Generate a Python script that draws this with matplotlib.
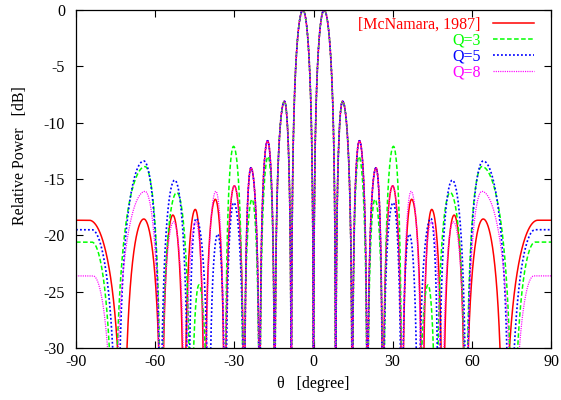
import numpy as np
import matplotlib
matplotlib.use("Agg")
import matplotlib.pyplot as plt

plt.rcParams['font.family'] = ['Liberation Serif', 'DejaVu Serif']

# ---- data (positive half; pattern is symmetric) ----
# lobe i spans null_deg[i] .. null_deg[i+1] (last lobe runs to 90 deg and
# holds its peak level after its peak position)
mc_null = [0, 8.4, 14.7, 20.4, 26.2, 33.6, 41.3, 49.0, 57.5, 72.0]
mc_peak_deg = [4.0, 11.0, 17.4, 23.7, 30.0, 37.2, 44.8, 53.3, 64.3, 85.0]
mc_peak_db = [0.0, -8.1, -11.6, -14.0, -15.6, -16.8, -17.7, -18.2, -18.55, -18.66]

q3_null = [0, 8.4, 14.7, 20.4, 26.6, 33.5, 39.8, 46.5, 57.8, 75.5]
q3_peak_deg = [4.0, 11.0, 17.2, 23.3, 30.3, 36.8, 43.4, 51.8, 63.8, 84.0]
q3_peak_db = [0.0, -8.1, -13.0, -16.8, -12.1, -31.0, -24.4, -16.2, -13.9, -20.6]

q5_null = [0, 8.4, 14.7, 20.4, 26.2, 33.4, 39.6, 47.4, 58.0, 74.2]
q5_peak_deg = [4.0, 11.0, 17.4, 23.7, 30.2, 36.3, 44.5, 52.6, 64.3, 84.0]
q5_peak_db = [0.0, -8.1, -11.6, -14.0, -17.1, -19.9, -18.5, -15.1, -13.4, -19.5]

q8_null = [0, 8.4, 14.7, 20.4, 26.2, 33.6, 41.0, 48.6, 57.8, 75.5]
q8_peak_deg = [4.0, 11.0, 17.4, 23.7, 30.0, 37.0, 44.6, 53.0, 63.8, 83.5]
q8_peak_db = [0.0, -8.1, -11.6, -14.0, -15.6, -16.1, -18.8, -18.8, -16.1, -23.6]

labels = ['[McNamara, 1987]', 'Q=3', 'Q=5', 'Q=8']
x_ticks = [-90, -60, -30, 0, 30, 60, 90]
y_ticks = [0, -5, -10, -15, -20, -25, -30]


def lobe_curve(x, nulls, pk_x, pk_db):
    y = np.full_like(x, -200.0)
    bounds = list(nulls) + [90.0]
    n = len(nulls)
    for i in range(n):
        a, b = bounds[i], bounds[i + 1]
        c, P = pk_x[i], pk_db[i]
        m = (x >= a) & (x <= b)
        xs = x[m]
        if i == n - 1:
            s = np.where(xs <= c, 0.5 * (xs - a) / (c - a), 0.5)
        else:
            s = np.where(xs <= c, 0.5 * (xs - a) / (c - a),
                         0.5 + 0.5 * (xs - c) / (b - c))
        amp = np.abs(np.sin(np.pi * s))
        y[m] = P + 20 * np.log10(np.maximum(amp, 1e-6))
    return y


xh = np.linspace(0, 90, 9001)
xf = np.concatenate([-xh[::-1], xh[1:]])


def full(nulls, pk_x, pk_db):
    yh = lobe_curve(xh, nulls, pk_x, pk_db)
    return np.concatenate([yh[::-1], yh[1:]])


FS = 11.5

fig = plt.figure(figsize=(5.61, 4.00), dpi=100)
ax = fig.add_axes([76 / 561, 1 - 348 / 400, 475 / 561, 338 / 400])

ax.plot(xf, full(mc_null, mc_peak_deg, mc_peak_db), color='#ff0000', lw=1.1,
        label=labels[0])
ax.plot(xf, full(q3_null, q3_peak_deg, q3_peak_db), color='#00ff00', lw=1.1,
        ls=(0, (3.0, 1.6)), label=labels[1])
ax.plot(xf, full(q5_null, q5_peak_deg, q5_peak_db), color='#0000ff', lw=1.2,
        ls=(0, (1.1, 1.3)), label=labels[2])
ax.plot(xf, full(q8_null, q8_peak_deg, q8_peak_db), color='#ff00ff', lw=0.9,
        ls=(0, (0.9, 0.9)), label=labels[3])

ax.set_xlim(-90, 90)
ax.set_ylim(-30, 0)
ax.set_xticks(x_ticks)
ax.set_xticklabels([str(v) for v in x_ticks])
ax.set_yticks(y_ticks)
ax.set_yticklabels([str(v) for v in y_ticks])
ax.tick_params(direction='in', top=True, right=True, length=5, width=0.8,
               labelsize=FS)
ax.tick_params(axis='x', pad=4)
ax.tick_params(axis='y', pad=8)
for sp in ax.spines.values():
    sp.set_linewidth(0.9)

ax.set_xlabel('\u03b8   [degree]', fontsize=FS, labelpad=5)
ax.set_ylabel('Relative Power   [dB]', fontsize=FS)
ax.yaxis.set_label_coords(-0.102, 0.568)

leg = ax.legend(loc='upper right', bbox_to_anchor=(0.988, 1.014),
                markerfirst=False, frameon=False, labelcolor='linecolor',
                handlelength=2.6, handletextpad=0.75, labelspacing=0.0,
                fontsize=FS, borderaxespad=0.3)

fig.savefig('out.png', dpi=100)
